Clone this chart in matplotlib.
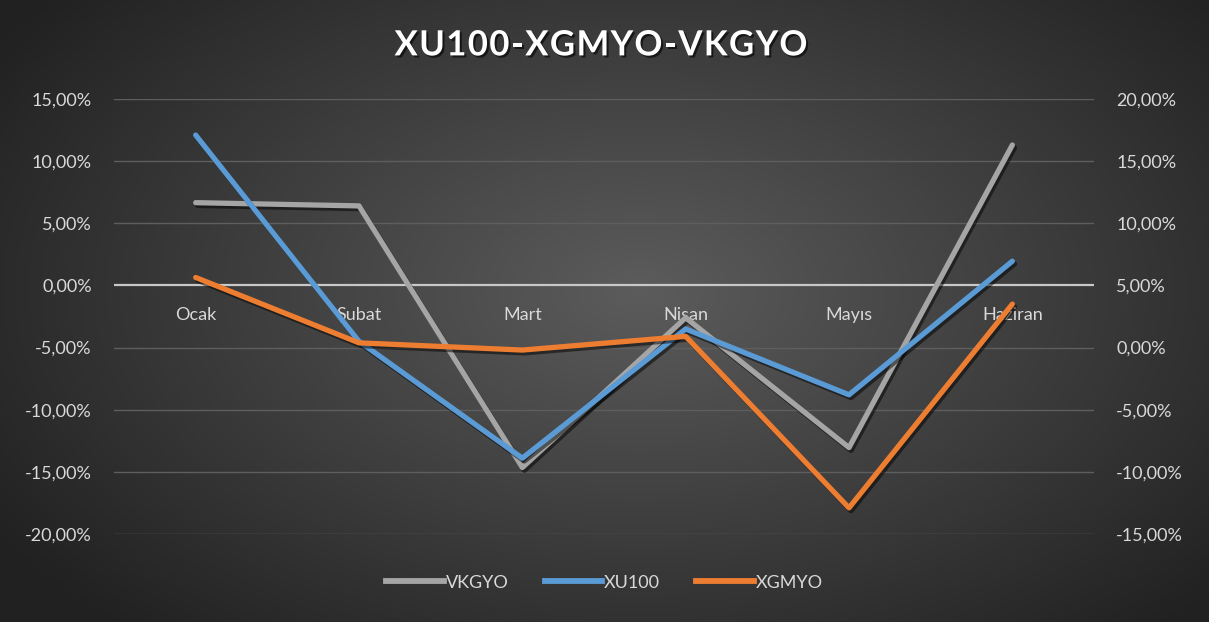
import numpy as np
import matplotlib
matplotlib.use('Agg')
import matplotlib.pyplot as plt
import matplotlib.patheffects as pe
from matplotlib.lines import Line2D
from matplotlib.ticker import FuncFormatter

# ── data (monthly returns) ───────────────────────────────────────────────────
months = ['Ocak', 'Şubat', 'Mart', 'Nisan', 'Mayıs', 'Haziran']
vkgyo  = [6.66, 6.40, -14.65, -2.60, -13.05, 11.30]    # left axis
xu100  = [12.10, -4.50, -13.90, -3.50, -8.80, 1.95]    # left axis
xgmyo  = [5.64, 0.38, -0.20, 0.90, -12.90, 3.50]       # right axis

left_ticks  = [-20, -15, -10, -5, 0, 5, 10, 15]
right_ticks = [-15, -10, -5, 0, 5, 10, 15, 20]

plt.rcParams['font.family'] = ['Lato', 'DejaVu Sans']

# ── figure + radial background ───────────────────────────────────────────────
fig = plt.figure(figsize=(12.09, 6.22), dpi=100)
bg = fig.add_axes([0, 0, 1, 1], zorder=-10)
yy, xx = np.mgrid[0:622, 0:1209]
r = np.sqrt(((xx - 640) / 700.0) ** 2 + ((yy - 290) / 420.0) ** 2)
shade = np.clip(0.36 - 0.21 * r, 0.13, 0.36)
bg.imshow(np.dstack([shade] * 3), aspect='auto', extent=[0, 1, 0, 1])
bg.set_xlim(0, 1)
bg.set_ylim(0, 1)
bg.axis('off')
fig.patch.set_edgecolor('#9a9a9a')
fig.patch.set_linewidth(2)

ax = fig.add_axes([0.0943, 0.1415, 0.8106, 0.6993])
ax.patch.set_alpha(0)
ax2 = ax.twinx()
ax2.patch.set_alpha(0)

x = np.arange(len(months))
pct = FuncFormatter(lambda v, _: f'{v:.2f}%'.replace('.', ','))
label_col = '#d9d9d9'

for a, ticks, lims in [(ax, left_ticks, (-20, 15)), (ax2, right_ticks, (-15, 20))]:
    a.set_ylim(*lims)
    a.set_yticks(ticks)
    a.yaxis.set_major_formatter(pct)
    a.tick_params(length=0, labelsize=13, labelcolor=label_col, pad=16)
    for s in a.spines.values():
        s.set_visible(False)
ax.set_xlim(-0.5, len(months) - 0.5)
ax.set_xticks([])

# gridlines + zero line
for t in left_ticks:
    if t == 0:
        ax.axhline(0, color='#c8c8c8', lw=1.6, zorder=1)
    else:
        ax.axhline(t, color='#5e5e5e', lw=1.0, zorder=0)

# category labels sit under the zero line
for i, m in enumerate(months):
    ax.annotate(m, (i, 0), xytext=(0, -22), textcoords='offset pixels',
                ha='center', va='top', fontsize=13, color=label_col, zorder=2)

colors = {'VKGYO': '#a5a5a5', 'XU100': '#5b9bd5', 'XGMYO': '#ed7d31'}
shadow = [pe.SimpleLineShadow(offset=(1.5, -2), shadow_color='black', alpha=0.5), pe.Normal()]
ax.plot(x, vkgyo, color=colors['VKGYO'], lw=3.8, solid_capstyle='round',
        zorder=3, path_effects=shadow)
ax.plot(x, xu100, color=colors['XU100'], lw=3.8, solid_capstyle='round',
        zorder=4, path_effects=shadow)
ax2.plot(x, xgmyo, color=colors['XGMYO'], lw=3.8, solid_capstyle='round',
         zorder=5, path_effects=shadow)

# title, letters spaced out a little like the Excel original
title = 'XU100-XGMYO-VKGYO'
t = fig.text(0.5, 0.927, title, ha='center', va='center',
             fontsize=25, fontweight='bold', color='white',
             path_effects=[pe.withSimplePatchShadow(offset=(1.5, -1.5),
                                                    shadow_rgbFace='black', alpha=0.6)])
fig.canvas.draw()
w = t.get_window_extent().width
target = 413.0
if w < target:
    t.remove()
    renderer = fig.canvas.get_renderer()
    # measure each char, then place with extra spacing
    widths = []
    for ch in title:
        tmp = fig.text(0, 0, ch, fontsize=25, fontweight='bold')
        widths.append(tmp.get_window_extent(renderer).width)
        tmp.remove()
    extra = (target - w) / (len(title) - 1)
    start = 601 - target / 2
    pos = start
    for ch, cw in zip(title, widths):
        fig.text(pos / 1209, 0.927, ch, ha='left', va='center',
                 fontsize=25, fontweight='bold', color='white',
                 path_effects=[pe.withSimplePatchShadow(offset=(1.5, -1.5),
                                                        shadow_rgbFace='black', alpha=0.6)])
        pos += cw + extra

handles = [Line2D([], [], color=c, lw=4.2) for c in colors.values()]
leg = fig.legend(handles, list(colors.keys()), loc='center', bbox_to_anchor=(0.5, 0.063),
                 ncol=3, frameon=False, fontsize=13, handlelength=3.2,
                 handletextpad=0.1, columnspacing=2.0)
for txt in leg.get_texts():
    txt.set_color(label_col)

plt.savefig('out.png', dpi=100, facecolor=fig.get_facecolor())
